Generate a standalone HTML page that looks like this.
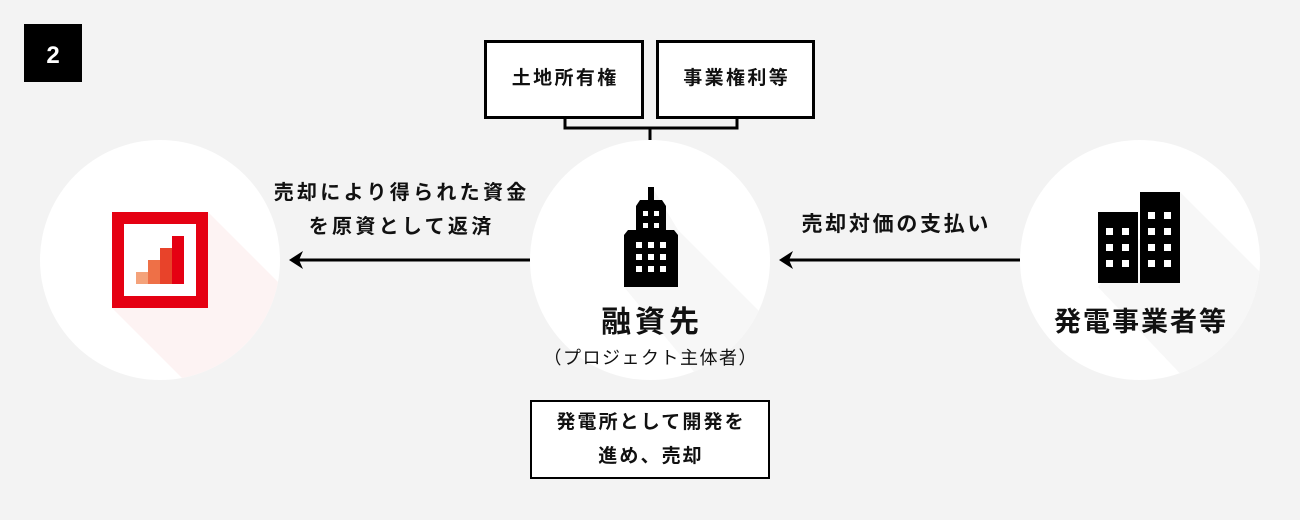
<!DOCTYPE html>
<html><head><meta charset="utf-8"><style>
body{margin:0;width:1300px;height:520px;background:#f3f3f3;overflow:hidden;font-family:"Liberation Sans","Noto Sans CJK JP",sans-serif;}
.t{position:absolute;white-space:nowrap;text-align:center;color:#111;box-sizing:border-box;}
</style></head><body>
<svg width="1300" height="520" style="position:absolute;left:0;top:0">
<defs>
<clipPath id="c1"><circle cx="160" cy="260" r="120"/></clipPath>
<clipPath id="c2"><circle cx="650" cy="260" r="120"/></clipPath>
<clipPath id="c3"><circle cx="1140" cy="260" r="120"/></clipPath>
</defs>
<rect x="24" y="24" width="58" height="58" fill="#000"/>
<text x="53" y="63" font-size="24" font-weight="bold" fill="#fff" text-anchor="middle" font-family="Liberation Sans">2</text>
<circle cx="160" cy="260" r="120" fill="#fff"/>
<circle cx="650" cy="260" r="120" fill="#fff"/>
<circle cx="1140" cy="260" r="120" fill="#fff"/>
<polygon clip-path="url(#c1)" points="208,212 400,404 304,500 112,308" fill="#fdf3f3"/>
<polygon clip-path="url(#c2)" points="654,190 678,230 880,432 800,500 624,287" fill="#f7f7f7"/>
<polygon clip-path="url(#c3)" points="1180,192 1400,412 1300,500 1098,287" fill="#f7f7f7"/>
<rect x="118" y="218" width="84" height="84" fill="#fff" stroke="#e50012" stroke-width="12"/>
<rect x="136" y="272" width="12" height="12" fill="#f4a27a"/>
<rect x="148" y="260" width="12" height="24" fill="#ee7047"/>
<rect x="160" y="248" width="12" height="36" fill="#e8432a"/>
<rect x="172" y="236" width="12" height="48" fill="#e50012"/>
<rect x="648" y="187" width="6" height="15" fill="#000"/>
<polygon points="640,200 662,200 666,206 666,230 674,230 678,235 678,287 624,287 624,235 628,230 636,230 636,206" fill="#000"/>
<g fill="#fff">
<rect x="643" y="211" width="5" height="5"/><rect x="654" y="211" width="5" height="5"/>
<rect x="643" y="223" width="5" height="5"/><rect x="654" y="223" width="5" height="5"/>
<rect x="636" y="242" width="6" height="6"/><rect x="648" y="242" width="6" height="6"/><rect x="660" y="242" width="6" height="6"/>
<rect x="636" y="254" width="6" height="6"/><rect x="648" y="254" width="6" height="6"/><rect x="660" y="254" width="6" height="6"/>
<rect x="636" y="266" width="6" height="6"/><rect x="648" y="266" width="6" height="6"/><rect x="660" y="266" width="6" height="6"/>
</g>
<rect x="1098" y="212" width="40" height="71" fill="#000"/>
<rect x="1140" y="192" width="40" height="91" fill="#000"/>
<g fill="#fff">
<rect x="1106" y="228" width="7" height="7"/><rect x="1122" y="228" width="7" height="7"/>
<rect x="1106" y="244" width="7" height="7"/><rect x="1122" y="244" width="7" height="7"/>
<rect x="1106" y="260" width="7" height="7"/><rect x="1122" y="260" width="7" height="7"/>
<rect x="1148" y="212" width="7" height="7"/><rect x="1164" y="212" width="7" height="7"/>
<rect x="1148" y="228" width="7" height="7"/><rect x="1164" y="228" width="7" height="7"/>
<rect x="1148" y="244" width="7" height="7"/><rect x="1164" y="244" width="7" height="7"/>
<rect x="1148" y="260" width="7" height="7"/><rect x="1164" y="260" width="7" height="7"/>
</g>
<rect x="485.5" y="41.5" width="157" height="76" fill="#fff" stroke="#000" stroke-width="3"/>
<rect x="657.5" y="41.5" width="156" height="76" fill="#fff" stroke="#000" stroke-width="3"/>
<polyline points="565,118 565,128 737,128 737,118" fill="none" stroke="#000" stroke-width="3"/>
<line x1="650" y1="128" x2="650" y2="140" stroke="#000" stroke-width="3"/>
<line x1="530" y1="260" x2="296" y2="260" stroke="#000" stroke-width="3"/>
<polygon points="289,260 303,251 299,260 303,269" fill="#000"/>
<line x1="1020" y1="260" x2="786" y2="260" stroke="#000" stroke-width="3"/>
<polygon points="779,260 793,251 789,260 793,269" fill="#000"/>
<rect x="531" y="401" width="238" height="77" fill="#fff" stroke="#000" stroke-width="2"/>
</svg>
<div class="t" style="left:484px;top:65px;width:160px;font-size:19px;letter-spacing:2.4px;padding-left:2.4px;font-weight:bold;line-height:28px">土地所有権</div>
<div class="t" style="left:656px;top:65px;width:159px;font-size:19px;letter-spacing:2.4px;padding-left:2.4px;font-weight:bold;line-height:28px">事業権利等</div>
<div class="t" style="left:250px;top:176px;width:300px;font-size:20px;letter-spacing:3.3px;padding-left:3.3px;font-weight:bold;line-height:34px">売却により得られた資金<br>を原資として返済</div>
<div class="t" style="left:760px;top:211px;width:270px;font-size:21px;letter-spacing:2.7px;padding-left:2.7px;font-weight:bold;line-height:28px">売却対価の支払い</div>
<div class="t" style="left:500px;top:304px;width:300px;font-size:30px;letter-spacing:4px;padding-left:4px;font-weight:bold;line-height:38px">融資先</div>
<div class="t" style="left:480px;top:344px;width:340px;font-size:18px;letter-spacing:1.5px;padding-left:1.5px;line-height:28px">（プロジェクト主体者）</div>
<div class="t" style="left:1000px;top:303px;width:280px;font-size:27px;letter-spacing:2px;padding-left:2px;font-weight:bold;line-height:38px">発電事業者等</div>
<div class="t" style="left:510px;top:406px;width:280px;font-size:19px;letter-spacing:2.1px;padding-left:2.1px;font-weight:bold;line-height:34px">発電所として開発を<br>進め、売却</div>
</body></html>
